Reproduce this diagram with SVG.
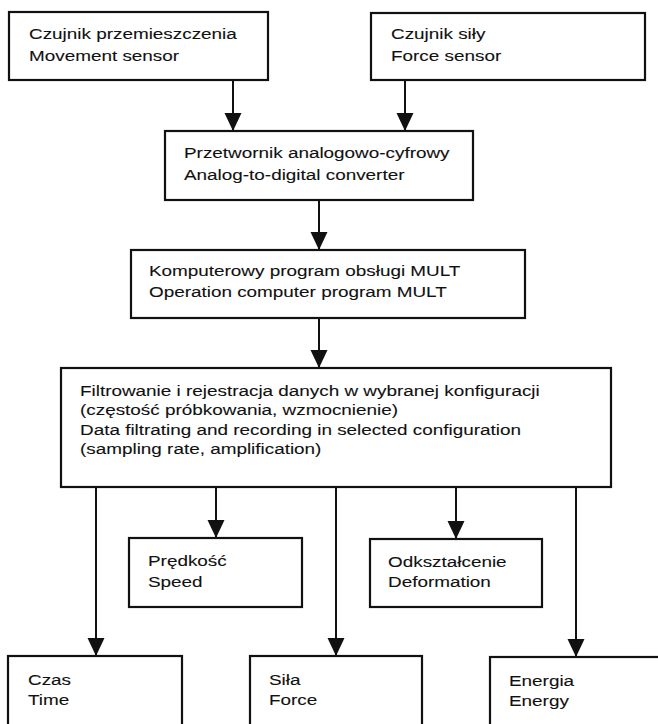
<svg xmlns="http://www.w3.org/2000/svg" width="658" height="724" viewBox="0 0 658 724">
<style>
.box{fill:#fff;stroke:#111;stroke-width:2.2}
.t{font-family:"Liberation Sans",Arial,Helvetica,sans-serif;font-size:15.5px;fill:#111;stroke:#111;stroke-width:0.1}
.c{stroke:#111;stroke-width:2;fill:none;marker-end:url(#ah)}
</style>
<defs>
<marker id="ah" markerUnits="userSpaceOnUse" markerWidth="18" markerHeight="18" refX="18" refY="8.5" orient="auto">
<path d="M0,0 L18,8.5 L0,17 z" fill="#111"/>
</marker>
</defs>
<rect width="658" height="724" fill="#fff"/>
<g id="connectors">
<line class="c" x1="233" y1="80" x2="233" y2="131"/>
<line class="c" x1="405" y1="80" x2="405" y2="131"/>
<line class="c" x1="319" y1="200" x2="319" y2="250"/>
<line class="c" x1="319" y1="318" x2="319" y2="368"/>
<line class="c" x1="96" y1="487" x2="96" y2="656"/>
<line class="c" x1="216" y1="487" x2="216" y2="538"/>
<line class="c" x1="336" y1="487" x2="336" y2="656"/>
<line class="c" x1="456" y1="487" x2="456" y2="539"/>
<line class="c" x1="576" y1="487" x2="576" y2="657"/>
</g>
<g id="movement-sensor">
<rect class="box" x="9" y="12" width="259" height="68"/>
<text class="t" transform="translate(29 39) scale(1.22 1)"><tspan x="0" y="0">Czujnik przemieszczenia</tspan><tspan x="0" y="22">Movement sensor</tspan></text>
</g>
<g id="force-sensor">
<rect class="box" x="371" y="13" width="274" height="67"/>
<text class="t" transform="translate(391 39) scale(1.22 1)"><tspan x="0" y="0">Czujnik siły</tspan><tspan x="0" y="22">Force sensor</tspan></text>
</g>
<g id="adc">
<rect class="box" x="165" y="131" width="308" height="69"/>
<text class="t" transform="translate(184 158) scale(1.22 1)"><tspan x="0" y="0">Przetwornik analogowo-cyfrowy</tspan><tspan x="0" y="22">Analog-to-digital converter</tspan></text>
</g>
<g id="mult">
<rect class="box" x="131" y="250" width="394" height="68"/>
<text class="t" transform="translate(149 276) scale(1.22 1)"><tspan x="0" y="0">Komputerowy program obsługi MULT</tspan><tspan x="0" y="21">Operation computer program MULT</tspan></text>
</g>
<g id="filter">
<rect class="box" x="61" y="368" width="550" height="119"/>
<text class="t" transform="translate(80 396) scale(1.22 1)"><tspan x="0" y="0">Filtrowanie i rejestracja danych w wybranej konfiguracji</tspan><tspan x="0" y="19.5">(częstość próbkowania, wzmocnienie)</tspan><tspan x="0" y="39">Data filtrating and recording in selected configuration</tspan><tspan x="0" y="58.5">(sampling rate, amplification)</tspan></text>
</g>
<g id="speed">
<rect class="box" x="129" y="538" width="173" height="69"/>
<text class="t" transform="translate(148 566) scale(1.22 1)"><tspan x="0" y="0">Prędkość</tspan><tspan x="0" y="21">Speed</tspan></text>
</g>
<g id="deformation">
<rect class="box" x="370" y="539" width="172" height="68"/>
<text class="t" transform="translate(388 567) scale(1.22 1)"><tspan x="0" y="0">Odkształcenie</tspan><tspan x="0" y="20">Deformation</tspan></text>
</g>
<g id="time">
<rect class="box" x="8" y="656" width="174" height="90"/>
<text class="t" transform="translate(28 685) scale(1.22 1)"><tspan x="0" y="0">Czas</tspan><tspan x="0" y="20">Time</tspan></text>
</g>
<g id="force">
<rect class="box" x="250" y="656" width="172" height="90"/>
<text class="t" transform="translate(269 685) scale(1.22 1)"><tspan x="0" y="0">Siła</tspan><tspan x="0" y="20">Force</tspan></text>
</g>
<g id="energy">
<rect class="box" x="490" y="657" width="190" height="90"/>
<text class="t" transform="translate(509 686) scale(1.22 1)"><tspan x="0" y="0">Energia</tspan><tspan x="0" y="20">Energy</tspan></text>
</g>
</svg>
